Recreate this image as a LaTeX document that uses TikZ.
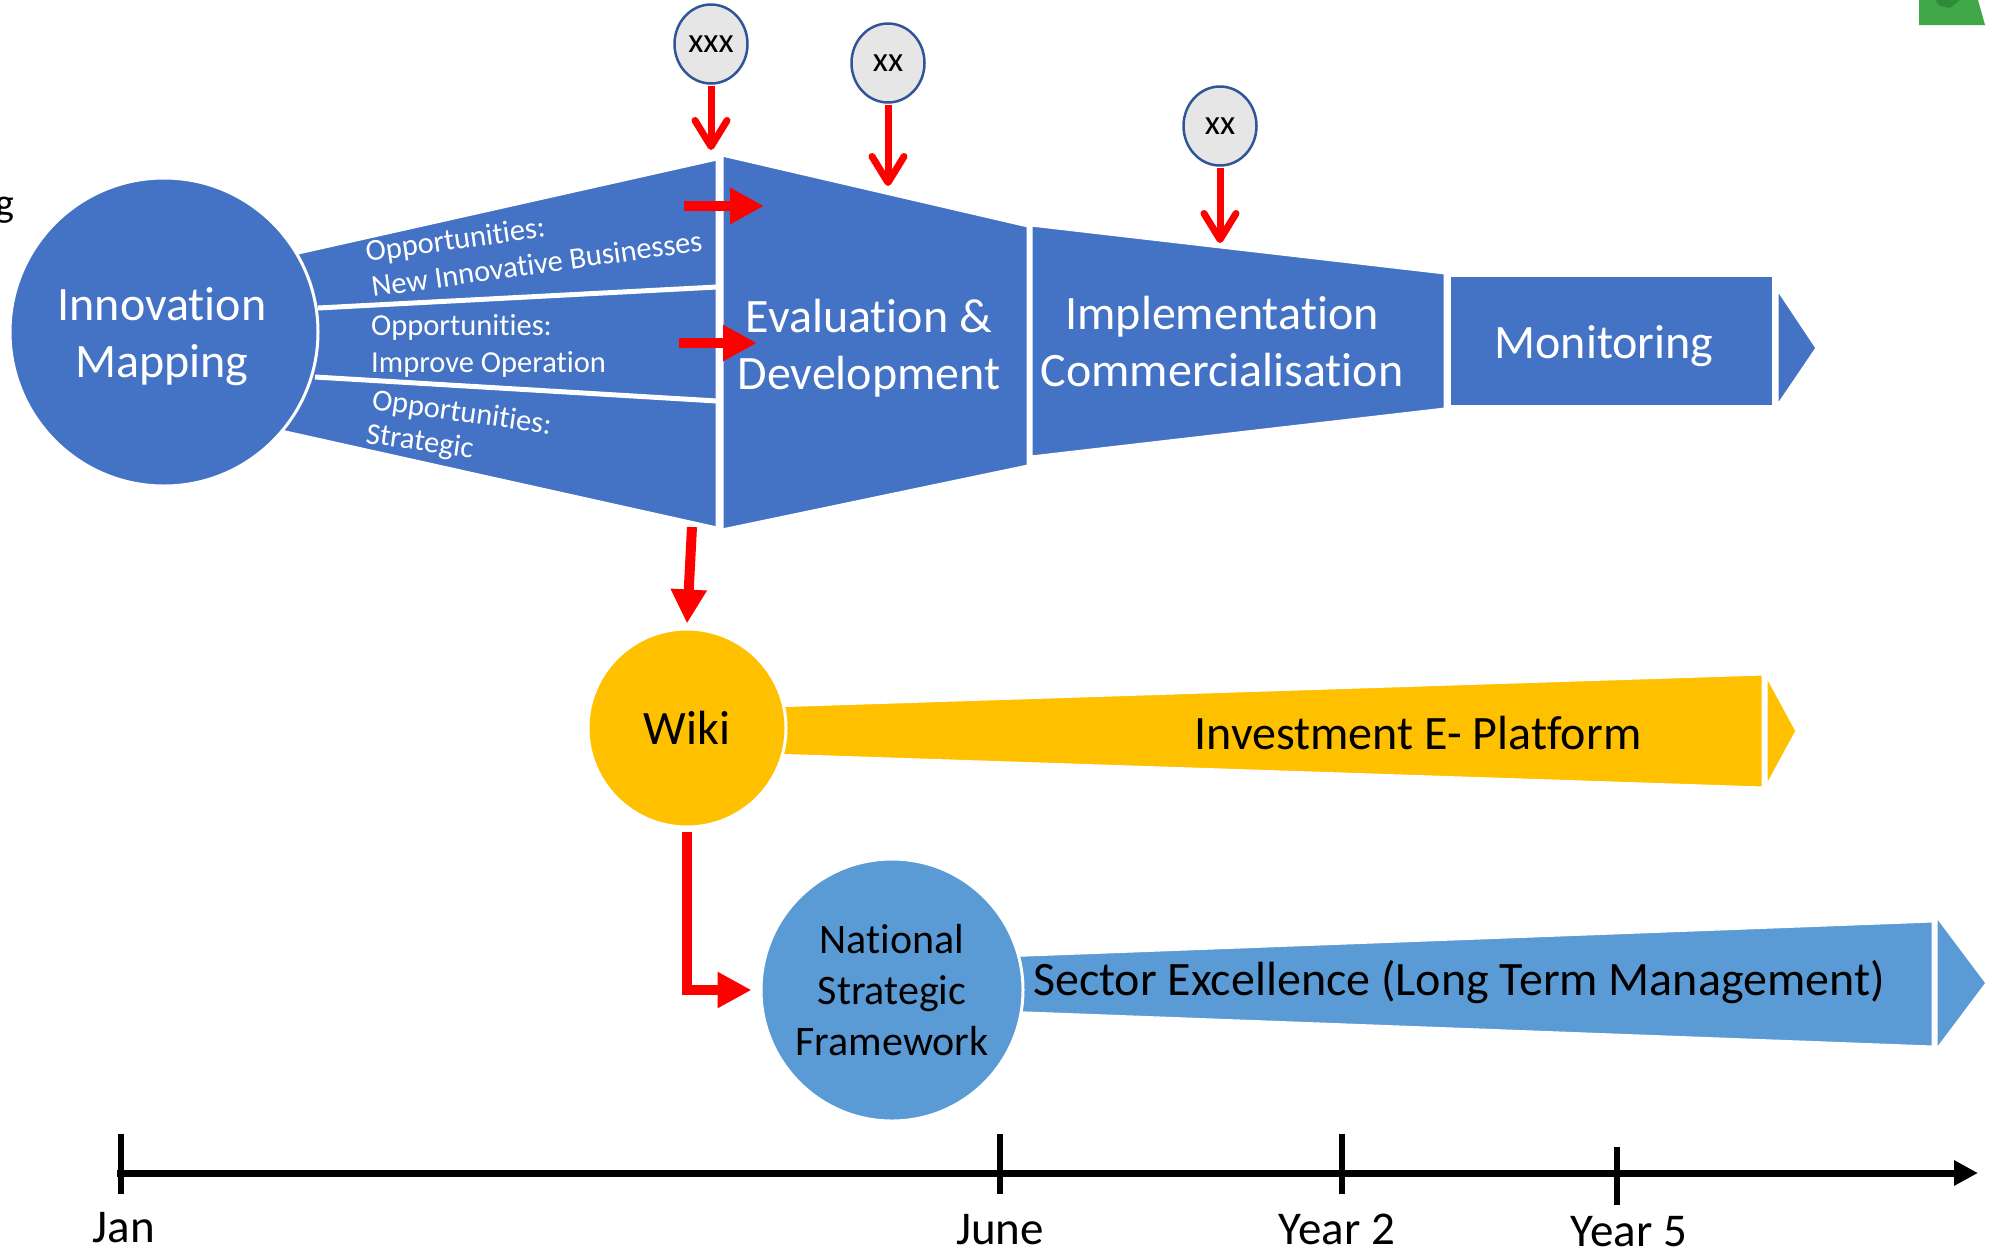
\documentclass[tikz,border=0pt]{standalone}
\usepackage{fontspec}
\setmainfont{Carlito}[Ligatures=NoCommon]
\usetikzlibrary{arrows.meta,shapes.geometric}
\definecolor{mblue}{HTML}{4472C4}
\definecolor{lblue}{HTML}{5B9BD5}
\definecolor{myellow}{HTML}{FFC000}
\definecolor{mred}{HTML}{FF0000}
\definecolor{cgray}{HTML}{E7E6E6}
\definecolor{cborder}{HTML}{2F5597}
\definecolor{mgreen}{HTML}{41A84A}
\definecolor{dgreen}{HTML}{2E8B3A}
\newcommand\fsBig{\fontsize{48}{57}\selectfont}
\newcommand\fsMid{\fontsize{42}{51}\selectfont}
\newcommand\fsOpp{\fontsize{30.5}{36}\selectfont}
\newcommand\fsTick{\fontsize{47}{56}\selectfont}
\newcommand\fsSmall{\fontsize{35}{40}\selectfont}
\begin{document}
\begin{tikzpicture}[x=1pt,y=-1pt,
  shapeblue/.style={fill=mblue, draw=white, line width=3pt, line join=miter},
  shapeyellow/.style={fill=myellow, draw=white, line width=3pt},
  shapelight/.style={fill=lblue, draw=white, line width=3pt},
  divider/.style={draw=white, line width=5pt},
  circ/.style={circle, draw=white, line width=3pt, inner sep=0pt, align=center},
  smallc/.style={ellipse, fill=cgray, draw=cborder, line width=2.5pt, minimum width=73pt, minimum height=79pt, inner sep=0pt, font=\fsSmall},
  whitetxt/.style={text=white, font=\fsBig, align=center},
  blacktxt/.style={text=black, font=\fsBig, align=center},
  opp/.style={text=white, font=\fsOpp, inner sep=0pt, anchor=base west},
  barb/.style={draw=mred, line width=7pt, -{Straight Barb[length=26pt,width=32pt,line cap=round,line join=round]}},
  blockarrow/.style={draw=mred, line width=10pt, line join=miter, -{Triangle[length=34pt,width=34pt]}},
  ticklbl/.style={font=\fsTick, anchor=base, inner sep=0pt},
  tickmark/.style={draw=black, line width=6pt}
]
\useasboundingbox (0,0) rectangle (2003,1251);

% cropped fragments at the edges
\node[font=\fontsize{40}{48}\selectfont, anchor=base east, inner sep=0pt] (frag) at (15,216) {g};
\fill[mgreen] (1919,0) -- (1978,0) -- (1985,25) -- (1919,25) -- cycle;
\fill[dgreen] (1935,0) -- (1960,0) -- (1950,8) -- (1940,6) -- cycle;

% opportunity funnel
\draw[shapeblue] (200,275) -- (717,159) -- (717,528) -- (200,413) -- cycle;
\draw[divider] (318,308) -- (717,287);
\draw[divider] (315,377) -- (717,401);

% evaluation / implementation / monitoring
\draw[shapeblue] (722,155) -- (1028,226) -- (1028,466) -- (722,530) -- cycle;
\draw[shapeblue] (1031,225) -- (1445,273) -- (1445,409) -- (1031,457) -- cycle;
\draw[shapeblue] (1449,275) rectangle (1773,406);
\draw[shapeblue] (1777,288) -- (1817,348) -- (1777,407) -- cycle;

% investment e-platform
\draw[shapeyellow] (770,706) -- (1763,674) -- (1763,788) -- (770,755) -- cycle;
\draw[shapeyellow] (1766,674) -- (1797,731) -- (1766,788) -- cycle;

% sector excellence
\draw[shapelight] (1000,956) -- (1933,921) -- (1933,1047) -- (1000,1012) -- cycle;
\draw[shapelight] (1936,915) -- (1987,983) -- (1936,1051) -- cycle;

% circles
\node[circ, fill=mblue, minimum size=308pt, whitetxt] (innov) at (164,332) {};
\node[whitetxt] (innovtxt) at (162,337) {Innovation\\Mapping};
\node[circ, fill=myellow, minimum size=198pt, blacktxt] (wiki) at (687,728) {Wiki};
\node[circ, fill=lblue, minimum size=262pt, text=black, font=\fsMid] (nsf) at (892,990) {National\\Strategic\\Framework};

% texts in shapes
\node[whitetxt] (evaltxt) at (869,348) {Evaluation \&\\Development};
\node[whitetxt] (impltxt) at (1222,342) {Implementation\\Commercialisation};
\node[whitetxt] (montxt) at (1604,346) {Monitoring};
\node[blacktxt] (invtxt) at (1418,733) {Investment E- Platform};
\node[blacktxt] (sectxt) at (1459,982) {Sector Excellence (Long Term Management)};

% opportunity labels
\node[opp, rotate=8] (o1a) at (367,262) {Opportunities:};
\node[opp, rotate=8] (o1b) at (373,297) {New Innovative Businesses};
\node[opp] (o2a) at (371,335) {Opportunities:};
\node[opp] (o2b) at (371,372) {Improve Operation};
\node[opp, rotate=-8] (o3a) at (371,409) {Opportunities:};
\node[opp, rotate=-8] (o3b) at (365,443) {Strategic};

% small markers
\node[smallc] (m1) at (711,44) {xxx};
\node[smallc] (m2) at (888,63) {xx};
\node[smallc] (m3) at (1220,126) {xx};
\coordinate (t1) at (711,150);
\coordinate (t2) at (888,186);
\coordinate (t3) at (1220,243);
\draw[barb] ([yshift=-1pt]m1.south) -- (t1);
\draw[barb] ([yshift=-1pt]m2.south) -- (t2);
\draw[barb] ([yshift=-1pt]m3.south) -- (t3);

% red block arrows
\coordinate (a1s) at (684,206);
\coordinate (a1e) at (764,206);
\coordinate (a2s) at (679,343);
\coordinate (a2e) at (757,343);
\coordinate (a3s) at (692,527);
\draw[blockarrow] (a1s) -- (a1e);
\draw[blockarrow] (a2s) -- (a2e);
\draw[blockarrow] (a3s) -- ([yshift=4pt]wiki.north);
\draw[blockarrow] ([yshift=-3pt]wiki.south) |- ([xshift=-8pt]nsf.west);

% timeline
\coordinate (tl0) at (117,1173);
\coordinate (tl1) at (1978,1173);
\draw[line width=7pt, -{Triangle[length=24pt,width=24pt]}] (tl0) -- (tl1);
\draw[tickmark] (121,1134) -- (121,1194);
\draw[tickmark] (1000,1134) -- (1000,1194);
\draw[tickmark] (1342,1134) -- (1342,1194);
\draw[tickmark] (1617,1147) -- (1617,1205);
\node[ticklbl] (jan) at (124,1242) {Jan};
\node[ticklbl] (june) at (1000,1244) {June};
\node[ticklbl] (y2) at (1337,1244) {Year 2};
\node[ticklbl] (y5) at (1629,1246) {Year 5};
\end{tikzpicture}
\end{document}
